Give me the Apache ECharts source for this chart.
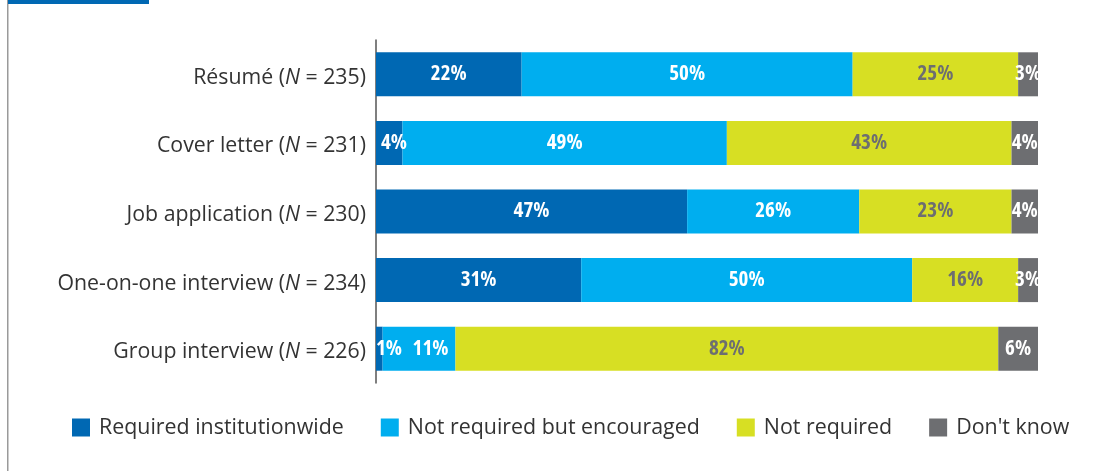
<!DOCTYPE html>
<html>
<head>
<meta charset="utf-8">
<script src="https://cdn.jsdelivr.net/npm/echarts@6/dist/echarts.min.js"></script>
<style>
html,body{margin:0;padding:0;background:#fff;}
#chart{width:1105px;height:471px;}
</style>
</head>
<body>
<div id="chart"></div>
<script>
const categories = ['Résumé', 'Cover letter', 'Job application', 'One-on-one interview', 'Group interview'];
const sampleN = [235, 231, 230, 234, 226];
const seriesNames = ['Required institutionwide', 'Not required but encouraged', 'Not required', "Don't know"];
const requiredInst = [22, 4, 47, 31, 1];
const encouraged = [50, 49, 26, 50, 11];
const notRequired = [25, 43, 23, 16, 82];
const dontKnow = [3, 4, 4, 3, 6];
const colors = ['#0068b3', '#00aeef', '#d7df23', '#6d6e71'];
const labelColors = ['#ffffff', '#ffffff', '#6d6e71', '#ffffff'];

const values = [requiredInst, encouraged, notRequired, dontKnow];
const labelFont = '"Open Sans", "DejaVu Sans Condensed", sans-serif';
const textFont = '"Open Sans", "Noto Sans", sans-serif';

function seriesData(k) {
  return values[k].map(function (v, i) {
    if (k === 0 && v < 5) {
      return { value: v, label: { position: 'insideLeft', distance: v < 2 ? 0 : 5 } };
    }
    if (k === 1 && values[0][i] < 2) {
      return { value: v, label: { position: 'insideRight', distance: 7 } };
    }
    return v;
  });
}

const chart = echarts.init(document.getElementById('chart'));
chart.setOption({
  animation: false,
  grid: { left: 376, right: 67, top: 40, bottom: 88, containLabel: false },
  xAxis: { type: 'value', min: 0, max: 100, show: false },
  yAxis: {
    type: 'category',
    data: categories,
    inverse: true,
    axisLine: { show: true, lineStyle: { color: '#555', width: 1.5 } },
    axisTick: { show: false },
    axisLabel: {
      margin: 10,
      fontFamily: textFont,
      fontSize: 21.3,
      color: '#333',
      padding: [7, 0, 0, 0],
      formatter: function (v, i) {
        return v + ' ({i|N} = ' + sampleN[i] + ')';
      },
      rich: {
        i: { fontStyle: 'italic', fontFamily: textFont, fontSize: 21.3, color: '#333' }
      }
    }
  },
  legend: {
    left: 67,
    top: 412,
    icon: 'rect',
    itemWidth: 18,
    itemHeight: 18,
    itemGap: 37,
    textStyle: { fontFamily: textFont, fontSize: 21.4, color: '#333', padding: [0, 0, 0, 4] },
    data: seriesNames
  },
  graphic: [
    { type: 'rect', shape: { x: 7, y: 0, width: 1.5, height: 471 }, style: { fill: '#9a9a9a' }, silent: true },
    { type: 'rect', shape: { x: 8, y: 0, width: 141, height: 4 }, style: { fill: '#0068b3' }, silent: true }
  ],
  series: seriesNames.map(function (name, k) {
    return {
      name: name,
      type: 'bar',
      stack: 'total',
      barWidth: 44,
      data: seriesData(k),
      itemStyle: { color: colors[k] },
      label: {
        show: true,
        position: 'inside',
        formatter: '{c}%',
        color: labelColors[k],
        fontFamily: labelFont,
        fontWeight: 'bold condensed',
        fontSize: 21,
        overflow: 'none'
      },
      labelLayout: { hideOverlap: false }
    };
  })
});
</script>
</body>
</html>
